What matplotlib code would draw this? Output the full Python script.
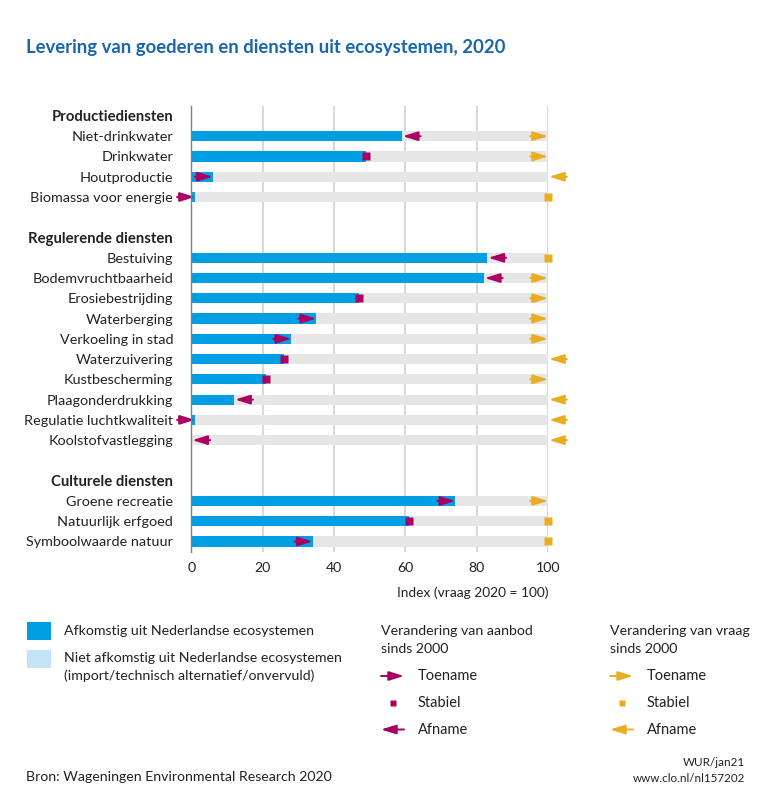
import matplotlib
matplotlib.use("Agg")
import matplotlib.pyplot as plt
from matplotlib.patches import Rectangle

plt.rcParams["font.family"] = ["Lato", "DejaVu Sans"]

# Rows as they appear from top to bottom; None value = group heading, "" = blank row
labels = [
    "Productiediensten", "Niet-drinkwater", "Drinkwater", "Houtproductie", "Biomassa voor energie", "",
    "Regulerende diensten", "Bestuiving", "Bodemvruchtbaarheid", "Erosiebestrijding", "Waterberging",
    "Verkoeling in stad", "Waterzuivering", "Kustbescherming", "Plaagonderdrukking",
    "Regulatie luchtkwaliteit", "Koolstofvastlegging", "",
    "Culturele diensten", "Groene recreatie", "Natuurlijk erfgoed", "Symboolwaarde natuur",
]
headings = ["Productiediensten", "Regulerende diensten", "Culturele diensten"]
values = [
    None, 59, 49, 6, 1, None,
    None, 83, 82, 47, 35, 28, 26, 21, 12, 1, 0, None,
    None, 74, 61, 34,
]
supply_change = [
    None, "down", "flat", "up", "up", None,
    None, "down", "down", "flat", "up", "up", "flat", "flat", "down", "up", "down", None,
    None, "up", "flat", "up",
]
demand_change = [
    None, "up", "up", "down", "flat", None,
    None, "flat", "up", "up", "up", "up", "down", "up", "down", "down", "down", None,
    None, "up", "flat", "flat",
]
x_ticks = [0, 20, 40, 60, 80, 100]

BLUE = "#009fe3"
LIGHT_BLUE = "#c5e3f7"
GREY = "#e6e6e6"
PURPLE = "#a90061"
YELLOW = "#eaac22"
TEXT = "#222222"
W, H = 770, 789


def draw_arrow(ax, tip, tail, y, color):
    ax.annotate(
        "", xy=(tip, y), xytext=(tail, y),
        arrowprops=dict(arrowstyle="-|>,head_length=0.9,head_width=0.28", color=color,
                        lw=1.4, mutation_scale=10, shrinkA=0, shrinkB=0),
        zorder=5, annotation_clip=False,
    )


def draw_change(ax, change, pos, y, color, length=5.0):
    if change == "up":
        draw_arrow(ax, pos, pos - length, y, color)
    elif change == "down":
        draw_arrow(ax, pos + 0.3, pos + 0.3 + length, y, color)
    else:
        ax.plot([pos], [y], marker="s", ms=5.4, color=color, mec="none", zorder=5, clip_on=False)


fig = plt.figure(figsize=(W / 100, H / 100), dpi=100)

# Chart area, y axis is row number
left, right, top, bottom = 191.3, 548.0, 106.0, 552.0
ax = fig.add_axes([left / W, 1 - bottom / H, (right - left) / W, (bottom - top) / H])
ax.set_xlim(0, 100)
ax.set_ylim(21.52, -0.49)

rows = list(range(len(labels)))
for i in rows:
    if values[i] is None:
        continue
    ax.barh(i, 100, height=0.5, color=GREY, zorder=2)
    ax.barh(i, values[i], height=0.5, color=BLUE, zorder=3)
    draw_change(ax, supply_change[i], values[i], i, PURPLE)
    draw_change(ax, demand_change[i], 100, i, YELLOW)

ax.set_xticks(x_ticks)
ax.set_xticklabels([str(t) for t in x_ticks], fontsize=10.2, color=TEXT)
ax.set_yticks(rows)
ax.set_yticklabels(labels, fontsize=10.35, color=TEXT)
for tick in ax.get_yticklabels():
    if tick.get_text() in headings:
        tick.set_fontweight("bold")
        tick.set_fontsize(10.7)
ax.tick_params(axis="both", length=0)
ax.tick_params(axis="y", pad=13)
ax.tick_params(axis="x", pad=7)
ax.xaxis.grid(True, color="#d9d9d9", lw=1.5, zorder=0)
ax.set_axisbelow(True)
for side in ["top", "right", "bottom"]:
    ax.spines[side].set_visible(False)
ax.spines["left"].set_color("#808080")
ax.spines["left"].set_linewidth(1.0)
ax.spines["left"].set_zorder(6)

# Overlay in pixel coordinates for title, legend and footer
ov = fig.add_axes([0, 0, 1, 1], zorder=-1)
ov.set_xlim(0, W)
ov.set_ylim(H, 0)
ov.axis("off")

ov.text(26, 47, "Levering van goederen en diensten uit ecosystemen, 2020", fontsize=13.3,
        fontweight="bold", color="#1a66ae", va="center")
ov.text(473, 593, "Index (vraag 2020 = 100)", fontsize=9.9, color=TEXT, ha="center", va="center")

ov.add_patch(Rectangle((27, 622), 24, 18, color=BLUE, lw=0))
ov.add_patch(Rectangle((27, 650), 24, 18, color=LIGHT_BLUE, lw=0))
ov.text(64, 631, "Afkomstig uit Nederlandse ecosystemen", fontsize=10.2, color=TEXT, va="center")
ov.text(64, 658, "Niet afkomstig uit Nederlandse ecosystemen", fontsize=10.2, color=TEXT, va="center")
ov.text(64, 676, "(import/technisch alternatief/onvervuld)", fontsize=10.2, color=TEXT, va="center")

for x0, word, color in [(381, "aanbod", PURPLE), (610, "vraag", YELLOW)]:
    ov.text(x0, 631, "Verandering van " + word, fontsize=10.2, color=TEXT, va="center")
    ov.text(x0, 649, "sinds 2000", fontsize=10.2, color=TEXT, va="center")
    draw_arrow(ov, x0 + 23, x0, 676, color)
    ov.plot([x0 + 11.5], [703], marker="s", ms=5.0, color=color, mec="none")
    draw_arrow(ov, x0, x0 + 23, 729.5, color)
    ov.text(x0 + 37, 676, "Toename", fontsize=10.5, color=TEXT, va="center")
    ov.text(x0 + 37, 703, "Stabiel", fontsize=10.5, color=TEXT, va="center")
    ov.text(x0 + 37, 729.5, "Afname", fontsize=10.5, color=TEXT, va="center")

ov.text(26, 777, "Bron: Wageningen Environmental Research 2020", fontsize=10.2, color=TEXT, va="center")
ov.text(745, 763, "WUR/jan21", fontsize=8.4, color=TEXT, ha="right", va="center")
ov.text(745, 778, "www.clo.nl/nl157202", fontsize=8.4, color=TEXT, ha="right", va="center")

fig.savefig("out.png", dpi=100)
